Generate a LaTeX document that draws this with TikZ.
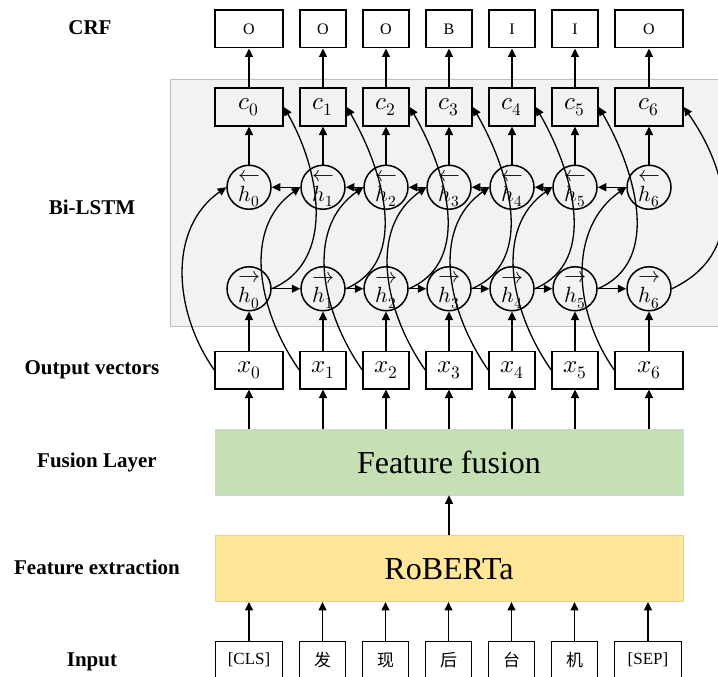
\documentclass[tikz,border=0pt]{standalone}
\usepackage{amsmath}
\usepackage{fontspec}
\usepackage{unicode-math}
\setmainfont{Liberation Serif}
\setmathfont{Latin Modern Math}
\newfontfamily\cjk{Noto Sans CJK SC}
\usepackage{tikz}
\usetikzlibrary{positioning, arrows.meta}
\definecolor{fusiongreen}{HTML}{C5E0B4}
\definecolor{bertyellow}{HTML}{FFE699}
\newcommand{\fwd}[1]{\overset{\textstyle\rightarrow}{h_{#1}}}
\newcommand{\bwd}[1]{\overset{\textstyle\leftarrow}{h_{#1}}}

\begin{document}
\begin{tikzpicture}[
    x=1pt, y=1pt,
    box/.style = {draw, line width=1.5pt, minimum width=#1, minimum height=37.5pt,
                  inner sep=0pt, font=\fontsize{16}{18}\selectfont},
    box/.default = 46pt,
    vec/.style = {box=#1, font=\fontsize{25}{27}\selectfont},
    vec/.default = 46pt,
    token/.style = {box=#1, font=\fontsize{17}{19}\selectfont},
    token/.default = 46pt,
    hcell/.style = {circle, draw, line width=1.5pt, minimum size=44pt,
                    inner sep=-5pt, font=\fontsize{22}{24}\selectfont},
    layer/.style = {font=\fontsize{21}{24}\selectfont\bfseries},
    block/.style = {minimum width=468pt, minimum height=66pt,
                    font=\fontsize{32}{36}\selectfont}
    ]
            % styles
            \tikzstyle{arrow} = [line width=1.4pt,->,>={Triangle[length=8.5pt,width=8pt]}]
            \tikzstyle{curve} = [line width=1.3pt,->,>={Triangle[length=8.5pt,width=8pt]}]

            \useasboundingbox (0,0) rectangle (718,-677);
            \fill [gray!10, draw=gray!50, line width=1pt] (170.7,-79.3) rectangle (722,-326.7);

            % layer names
            \node (lcrf) [layer] at (90,-28) {CRF};
            \node (lbilstm) [layer] at (92,-207) {Bi-LSTM};
            \node (lout) [layer] at (92,-370) {Output vectors};
            \node (lfusion) [layer] at (97,-462) {Fusion Layer};
            \node (lextract) [layer] at (97,-567) {Feature extraction};
            \node (linput) [layer] at (92,-662) {Input};

            % output vectors
            \node (x0) [vec=68pt] at (249,-370) {$x_0$};
            \node (x1) [vec, right=15.5pt of x0] {$x_1$};
            \node (x2) [vec, right=15.5pt of x1] {$x_2$};
            \node (x3) [vec, right=15.5pt of x2] {$x_3$};
            \node (x4) [vec, right=15.5pt of x3] {$x_4$};
            \node (x5) [vec, right=15.5pt of x4] {$x_5$};
            \node (x6) [vec=68pt, right=15.5pt of x5] {$x_6$};

            % forward cells
            \node (hf0) [hcell, above=39pt of x0] {$\fwd{0}$};
            \node (hf1) [hcell, above=39pt of x1] {$\fwd{1}$};
            \node (hf2) [hcell, above=39pt of x2] {$\fwd{2}$};
            \node (hf3) [hcell, above=39pt of x3] {$\fwd{3}$};
            \node (hf4) [hcell, above=39pt of x4] {$\fwd{4}$};
            \node (hf5) [hcell, above=39pt of x5] {$\fwd{5}$};
            \node (hf6) [hcell, above=39pt of x6] {$\fwd{6}$};

            % backward cells
            \node (hb0) [hcell, above=56pt of hf0] {$\bwd{0}$};
            \node (hb1) [hcell, above=56pt of hf1] {$\bwd{1}$};
            \node (hb2) [hcell, above=56pt of hf2] {$\bwd{2}$};
            \node (hb3) [hcell, above=56pt of hf3] {$\bwd{3}$};
            \node (hb4) [hcell, above=56pt of hf4] {$\bwd{4}$};
            \node (hb5) [hcell, above=56pt of hf5] {$\bwd{5}$};
            \node (hb6) [hcell, above=56pt of hf6] {$\bwd{6}$};

            % concatenation
            \node (c0) [vec=68pt, above=38pt of hb0] {$c_0$};
            \node (c1) [vec, above=38pt of hb1] {$c_1$};
            \node (c2) [vec, above=38pt of hb2] {$c_2$};
            \node (c3) [vec, above=38pt of hb3] {$c_3$};
            \node (c4) [vec, above=38pt of hb4] {$c_4$};
            \node (c5) [vec, above=38pt of hb5] {$c_5$};
            \node (c6) [vec=68pt, above=38pt of hb6] {$c_6$};

            % tags
            \node (o0) [box=68pt, above=39pt of c0] {O};
            \node (o1) [box, above=39pt of c1] {O};
            \node (o2) [box, above=39pt of c2] {O};
            \node (o3) [box, above=39pt of c3] {B};
            \node (o4) [box, above=39pt of c4] {I};
            \node (o5) [box, above=39pt of c5] {I};
            \node (o6) [box=68pt, above=39pt of c6] {O};

            % fusion and extraction
            \node (fusion) [block, fill=fusiongreen, draw=gray!35, line width=0.8pt] at (449,-462) {Feature fusion};
            \node (roberta) [block, fill=bertyellow, draw=bertyellow!80!gray, line width=0.5pt] at (449,-568.7) {RoBERTa};

            % input tokens
            \node (in0) [token=67pt] at (249,-660) {[CLS]};
            \node (in1) [token, right=15.5pt of in0] {\cjk 发};
            \node (in2) [token, right=15.5pt of in1] {\cjk 现};
            \node (in3) [token, right=15.5pt of in2] {\cjk 后};
            \node (in4) [token, right=15.5pt of in3] {\cjk 台};
            \node (in5) [token, right=15.5pt of in4] {\cjk 机};
            \node (in6) [token=67pt, right=15.5pt of in5] {[SEP]};

            \draw [arrow] (in0) -- (in0 |- roberta.south);
            \draw [arrow] (in1) -- (in1 |- roberta.south);
            \draw [arrow] (in2) -- (in2 |- roberta.south);
            \draw [arrow] (in3) -- (in3 |- roberta.south);
            \draw [arrow] (in4) -- (in4 |- roberta.south);
            \draw [arrow] (in5) -- (in5 |- roberta.south);
            \draw [arrow] (in6) -- (in6 |- roberta.south);
            \draw [arrow] (roberta) -- (fusion);

            \draw [arrow] (x0 |- fusion.north) -- (x0);
            \draw [arrow] (x1 |- fusion.north) -- (x1);
            \draw [arrow] (x2 |- fusion.north) -- (x2);
            \draw [arrow] (x3 |- fusion.north) -- (x3);
            \draw [arrow] (x4 |- fusion.north) -- (x4);
            \draw [arrow] (x5 |- fusion.north) -- (x5);
            \draw [arrow] (x6 |- fusion.north) -- (x6);

            \draw [arrow] (x0) -- (hf0);
            \draw [arrow] (x1) -- (hf1);
            \draw [arrow] (x2) -- (hf2);
            \draw [arrow] (x3) -- (hf3);
            \draw [arrow] (x4) -- (hf4);
            \draw [arrow] (x5) -- (hf5);
            \draw [arrow] (x6) -- (hf6);

            \draw [arrow] (hf0) -- (hf1);
            \draw [arrow] (hf1) -- (hf2);
            \draw [arrow] (hf2) -- (hf3);
            \draw [arrow] (hf3) -- (hf4);
            \draw [arrow] (hf4) -- (hf5);
            \draw [arrow] (hf5) -- (hf6);

            \draw [arrow] (hb6) -- (hb5);
            \draw [arrow] (hb5) -- (hb4);
            \draw [arrow] (hb4) -- (hb3);
            \draw [arrow] (hb3) -- (hb2);
            \draw [arrow] (hb2) -- (hb1);
            \draw [arrow] (hb1) -- (hb0);

            \draw [arrow] (hb0) -- (c0);
            \draw [arrow] (hb1) -- (c1);
            \draw [arrow] (hb2) -- (c2);
            \draw [arrow] (hb3) -- (c3);
            \draw [arrow] (hb4) -- (c4);
            \draw [arrow] (hb5) -- (c5);
            \draw [arrow] (hb6) -- (c6);

            \draw [arrow] (c0) -- (o0);
            \draw [arrow] (c1) -- (o1);
            \draw [arrow] (c2) -- (o2);
            \draw [arrow] (c3) -- (o3);
            \draw [arrow] (c4) -- (o4);
            \draw [arrow] (c5) -- (o5);
            \draw [arrow] (c6) -- (o6);

            % x into the backward cells
            \draw [curve] (x0.west) to[out=125, in=215] (hb0.west);
            \draw [curve] (x1.west) to[out=125, in=215] (hb1.west);
            \draw [curve] (x2.west) to[out=125, in=215] (hb2.west);
            \draw [curve] (x3.west) to[out=125, in=215] (hb3.west);
            \draw [curve] (x4.west) to[out=125, in=215] (hb4.west);
            \draw [curve] (x5.west) to[out=125, in=215] (hb5.west);
            \draw [curve] (x6.west) to[out=125, in=215] (hb6.west);

            % forward cells into c
            \draw [curve] (hf0.east) to[out=23, in=-60] (c0.east);
            \draw [curve] (hf1.east) to[out=23, in=-60] (c1.east);
            \draw [curve] (hf2.east) to[out=23, in=-60] (c2.east);
            \draw [curve] (hf3.east) to[out=23, in=-60] (c3.east);
            \draw [curve] (hf4.east) to[out=23, in=-60] (c4.east);
            \draw [curve] (hf5.east) to[out=23, in=-60] (c5.east);
            \draw [curve] (hf6.east) to[out=25, in=-55, looseness=1.15] (c6.east);
\end{tikzpicture}
\end{document}
